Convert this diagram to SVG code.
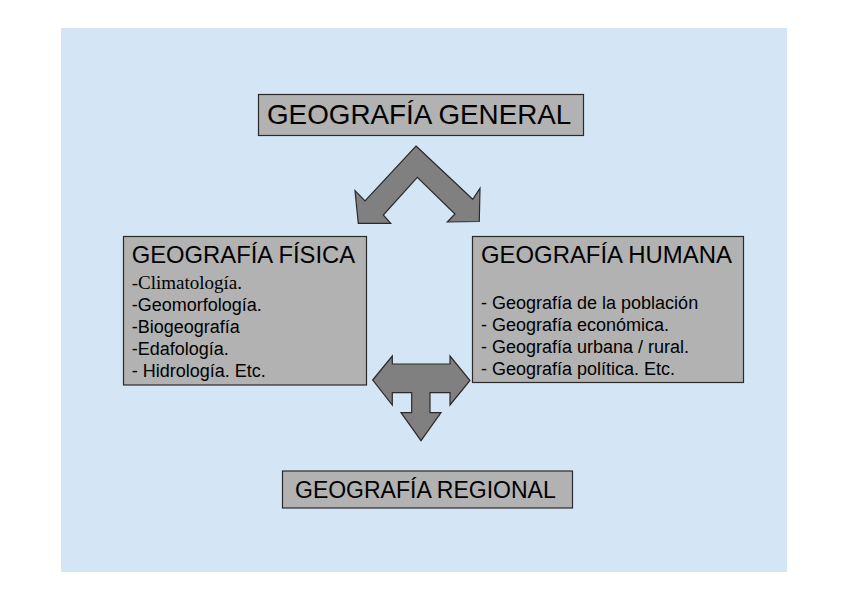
<svg xmlns="http://www.w3.org/2000/svg" width="848" height="599" viewBox="0 0 848 599">
<style>
.box{fill:#b2b2b2;stroke:#2a2a2a;stroke-width:1.2}
.arrow{fill:#808080;stroke:#2a2a2a;stroke-width:1.2;stroke-linejoin:miter}
.t{font-family:"Liberation Sans",Arial,sans-serif;fill:#000}
.s{font-family:"Liberation Serif","Times New Roman",serif;fill:#000}
</style>
<rect x="0" y="0" width="848" height="599" fill="#ffffff"/>
<rect x="61" y="28" width="726" height="544" fill="#d4e5f5"/>
<g id="connectors">
<polygon class="arrow" points="416,146 472.7,199.3 480,188.3 479.3,221.5 447.3,222 455,214 417.3,177.3 383.3,215 390.7,223.3 358.3,223.3 355,190.7 365,201"/>
<polygon class="arrow" points="372.7,380 392.3,356 392.3,364 450,364 450,356 470,380.5 450,405 450,392.7 430,392.7 430,412.7 441,412.7 421,440.7 401,412.7 411.7,412.7 411.7,392.7 392.3,392.7 392.3,405"/>
</g>
<g id="general">
<rect class="box" x="258.5" y="94.5" width="325" height="41"/>
<text class="t" x="267" y="124.3" font-size="27.8">GEOGRAFÍA GENERAL</text>
</g>
<g id="fisica">
<rect class="box" x="123.5" y="236.5" width="243" height="148.5"/>
<text class="t" x="131.7" y="263.3" font-size="23.8">GEOGRAFÍA FÍSICA</text>
<text class="s" x="131.7" y="289" font-size="19">-Climatología.</text>
<text class="t" x="131.7" y="311" font-size="18">-Geomorfología.</text>
<text class="t" x="131.7" y="333" font-size="18">-Biogeografía</text>
<text class="t" x="131.7" y="355" font-size="18">-Edafología.</text>
<text class="t" x="131.7" y="377" font-size="18">- Hidrología. Etc.</text>
</g>
<g id="humana">
<rect class="box" x="472.5" y="236.5" width="271" height="146"/>
<text class="t" x="481" y="263.3" font-size="23.9">GEOGRAFÍA HUMANA</text>
<text class="t" x="481" y="308.5" font-size="18">- Geografía de la población</text>
<text class="t" x="481" y="330.5" font-size="18">- Geografía económica.</text>
<text class="t" x="481" y="352.5" font-size="18">- Geografía urbana / rural.</text>
<text class="t" x="481" y="374.5" font-size="18">- Geografía política. Etc.</text>
</g>
<g id="regional">
<rect class="box" x="282.5" y="471" width="290" height="37"/>
<text class="t" x="295" y="497.7" font-size="23">GEOGRAFÍA REGIONAL</text>
</g>
</svg>
